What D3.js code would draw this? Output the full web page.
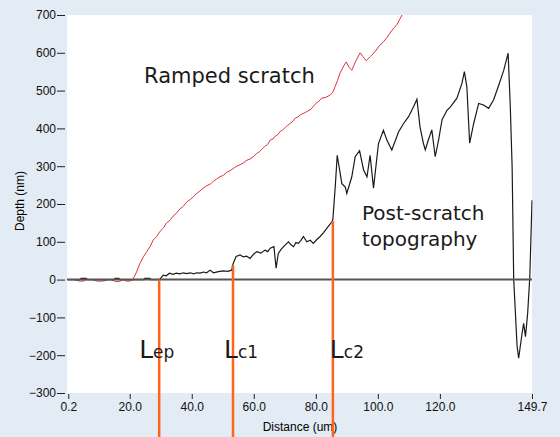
<!DOCTYPE html>
<html lang='en'>
  <head>
    <meta charset='utf-8'>
    <title>Scratch depth</title>
    <script type='text/javascript' src='https://cdn.jsdelivr.net/npm/d3@7'></script>
    <style type='text/css'>
      body { margin: 0; background-color: #e3ebf4; }
      svg { display: block; }
      .tick text { font-family: 'Liberation Sans', Arial, sans-serif; font-size: 12px; fill: #111; }
      .tick line { stroke: #222; }
      .note { font-family: 'DejaVu Sans', sans-serif; fill: #1a1a1a; }
    </style>
  </head>
  <body>
    <div id='chart'></div>
    <script type='text/javascript'>

    // Ramped scratch (red)
    var rampX = [0.2, 2, 4, 5, 6, 8, 9.5, 10.5, 12, 13, 14, 15.5, 16.5, 18, 19, 20, 21,
                 22.2, 23.3, 24.4, 25.5, 26.6, 27.6, 28.7, 29.8, 30.9, 31.9, 33, 34, 35.1, 36.2, 37.3, 38.3,
                 39.4, 40.5, 41.6, 42.6, 43.7, 44.8, 46, 47, 48, 49.1, 50.2, 51.3, 52.3, 53.4,
                 54.5, 55.6, 56.7, 57.8, 58.8, 59.8, 60.8, 61.8, 62.6, 63.5, 64.4, 65.3, 66.2, 67, 67.8, 68.5,
                 69.3, 70.1, 70.9, 71.7, 72.6, 73.5, 74.2, 75, 75.8, 76.6, 77.4, 78.2, 79.1, 80, 81, 81.9,
                 83.2, 84.6, 85.4, 86.2, 87, 87.8, 88.8, 89.8, 90.7, 91.6, 93, 94.3, 95.2, 96.2, 97.6, 99.1,
                 100.4, 101.8, 102.9, 103.9, 105, 106.1, 107.8, 109];
    var rampY = [0, 0, -4, -4, 0, 0, -4, -4, -3, 0, 0, -5, -5, 0, -4, -4, 0,
                 20, 43, 60, 74, 88, 105, 114, 128, 137, 150, 157, 168, 176, 187, 194, 205,
                 211, 219, 228, 234, 242, 248, 253, 260, 266, 272, 276, 284, 288, 294,
                 300, 304, 309, 316, 319, 325, 333, 338, 345, 352, 357, 369, 372, 380, 384, 392,
                 396, 402, 408, 413, 419, 428, 430, 436, 439, 442, 446, 449, 457, 466, 472, 480,
                 482, 488, 495, 510, 527, 546, 562, 576, 562, 554, 580, 600, 590, 579, 590, 603,
                 618, 629, 640, 652, 664, 674, 700, 720];

    // Post-scratch topography (black)
    var topoX = [0.2, 4, 4.3, 6, 6.3, 15, 15.3, 16.5, 16.8, 24.5, 24.8, 26.5, 26.8, 29.6,
                 30.8, 31.8, 32.8, 34, 35, 36.2, 37.3, 38.4, 39.5, 40.6, 41.6, 42.7, 43.8, 44.8, 45.9, 47, 48.6, 50.2, 51.6, 52.9, 53.2,
                 54.3, 55.6, 56.6, 57.7, 58.8, 60, 61, 62.3, 63.6, 64.5, 65.3, 66.5, 67.2, 67.9, 68.8, 69.6, 70.4, 71.2, 72, 72.8,
                 73.6, 74.4, 75.2, 76, 77.1, 78.2, 79.2, 80.3, 81.4, 82.5, 83.6, 84.4, 85.2, 85.5, 86.3, 86.9, 88.4, 89.5, 90, 91.6,
                 92.7, 94.1, 95.4, 96.5, 97.5, 98.6, 100.2, 101.8, 102.9, 104.5, 106.7, 108.3,
                 109.9, 111.5, 112.6, 113.6, 114.7, 115.3, 116.3, 117.4, 118.5, 119.6, 120.7,
                 122.3, 123.4, 125.5, 127.1, 127.9, 128.7, 129.6, 130.9, 132.5, 134.1, 135.7,
                 137.3, 139, 140.6, 142, 142.7, 143.3, 143.8, 144.9, 145.4, 146.5, 147, 147.6,
                 148.3, 149, 149.7];
    var topoY = [0, 0, 3, 3, 0, 0, 3, 3, 0, 0, 3, 3, 0, 0,
                 12, 10, 17, 14, 17, 15, 18, 16, 18, 15, 18, 17, 20, 18, 25, 18, 21, 23, 22, 25, 39,
                 61, 65, 60, 62, 56, 68, 74, 70, 78, 74, 83, 87, 30, 69, 80, 87, 94, 100, 92, 87,
                 98, 96, 104, 114, 100, 104, 96, 106, 114, 124, 136, 145, 153, 160, 250, 329, 254, 245, 228, 272,
                 325, 341, 290, 272, 329, 242, 360, 395, 369, 343, 391, 413,
                 431, 457, 477, 404, 360, 343, 370, 396, 325, 370, 423,
                 448, 457, 480, 519, 550, 510, 361, 413, 466, 462, 453,
                 475, 515, 554, 599, 458, 296, 0, -177, -208, -142, -116, -151,
                 -89, 8, 210];

    // Critical loads
    var markerX = [29.5, 53.3, 85.5];
    var markerY = [0, 38, 155];
    var markerMain = ['L', 'L', 'L'];
    var markerSub = ['ep', 'c1', 'c2'];

    var yTicks = [700, 600, 500, 400, 300, 200, 100, 0, -100, -200, -300];
    var xTicks = [0.2, 20, 40, 60, 80, 100, 120, 149.7];

    var width = 560, height = 437;

    var svg = d3.select('#chart')
      .append('svg')
      .attr('width', width)
      .attr('height', height);

    var xScale = d3.scaleLinear().domain([0.2, 149.7]).range([68.3, 532]);
    var yScale = d3.scaleLinear().domain([-300, 700]).range([393, 15]);

    svg.append('rect')
      .attr('width', width).attr('height', height)
      .attr('fill', '#e3ebf4');

    // plot area
    svg.append('rect')
      .attr('x', xScale(0.2) - 1.3)
      .attr('y', yScale(700))
      .attr('width', xScale(149.7) - xScale(0.2) + 1.3)
      .attr('height', yScale(-300) - yScale(700))
      .attr('fill', '#ffffff');

    svg.append('clipPath').attr('id', 'plot')
      .append('rect')
      .attr('x', xScale(0.2) - 1.3)
      .attr('y', yScale(700))
      .attr('width', xScale(149.7) - xScale(0.2) + 2)
      .attr('height', yScale(-300) - yScale(700));

    var line = function(xs, ys) {
      return d3.line()
        .x(function(d, i) { return xScale(xs[i]); })
        .y(function(d, i) { return yScale(ys[i]); })(xs);
    };

    var g = svg.append('g').attr('clip-path', 'url(#plot)');

    g.append('path')
      .attr('d', line(rampX, rampY))
      .attr('fill', 'none')
      .attr('stroke', '#e2323c')
      .attr('stroke-width', 1);

    g.append('path')
      .attr('d', line(topoX, topoY))
      .attr('fill', 'none')
      .attr('stroke', '#1a1a1a')
      .attr('stroke-width', 1.2);

    // zero line
    g.append('line')
      .attr('x1', xScale(0.2) - 1.3).attr('x2', xScale(149.7))
      .attr('y1', yScale(0)).attr('y2', yScale(0))
      .attr('stroke', '#555555')
      .attr('stroke-width', 2);

    // Axes
    svg.append('g')
      .attr('transform', 'translate(65,0)')
      .call(d3.axisLeft(yScale).tickValues(yTicks).tickSize(8).tickPadding(1).tickFormat(d3.format('d')))
      .call(function(a) { a.select('.domain').remove(); });

    svg.append('g')
      .attr('transform', 'translate(0,394)')
      .call(d3.axisBottom(xScale).tickValues(xTicks).tickSize(5).tickPadding(3).tickFormat(d3.format('.1f')))
      .call(function(a) { a.select('.domain').remove(); });

    svg.append('text')
      .attr('transform', 'translate(24,201) rotate(-90)')
      .style('text-anchor', 'middle')
      .style('font-family', 'Liberation Sans, Arial, sans-serif')
      .style('font-size', '12px')
      .text('Depth (nm)');

    svg.append('text')
      .attr('x', 300).attr('y', 431)
      .style('text-anchor', 'middle')
      .style('font-family', 'Liberation Sans, Arial, sans-serif')
      .style('font-size', '12px')
      .text('Distance (um)');

    // critical load markers
    svg.append('g').selectAll('line')
      .data(markerX)
      .enter()
      .append('line')
      .attr('x1', function(d) { return xScale(d); })
      .attr('x2', function(d) { return xScale(d); })
      .attr('y1', function(d, i) { return yScale(markerY[i]); })
      .attr('y2', height)
      .attr('stroke', '#ff6418')
      .attr('stroke-width', 2.5);

    var labOffset = [-20, -9, -3];
    var labels = svg.append('g').selectAll('text')
      .data(markerX)
      .enter()
      .append('text')
      .attr('class', 'note')
      .attr('x', function(d, i) { return xScale(d) + labOffset[i]; })
      .attr('y', 358);
    labels.append('tspan')
      .style('font-size', '25px')
      .text(function(d, i) { return markerMain[i]; });
    labels.append('tspan')
      .style('font-size', '17px')
      .text(function(d, i) { return markerSub[i]; });

    svg.append('text')
      .attr('class', 'note')
      .attr('x', 144).attr('y', 83)
      .style('font-size', '21px')
      .text('Ramped scratch');

    svg.append('text')
      .attr('class', 'note')
      .attr('x', 362).attr('y', 220)
      .style('font-size', '20px')
      .text('Post-scratch');

    svg.append('text')
      .attr('class', 'note')
      .attr('x', 362).attr('y', 246)
      .style('font-size', '20px')
      .text('topography');

    </script>
  </body>
</html>
